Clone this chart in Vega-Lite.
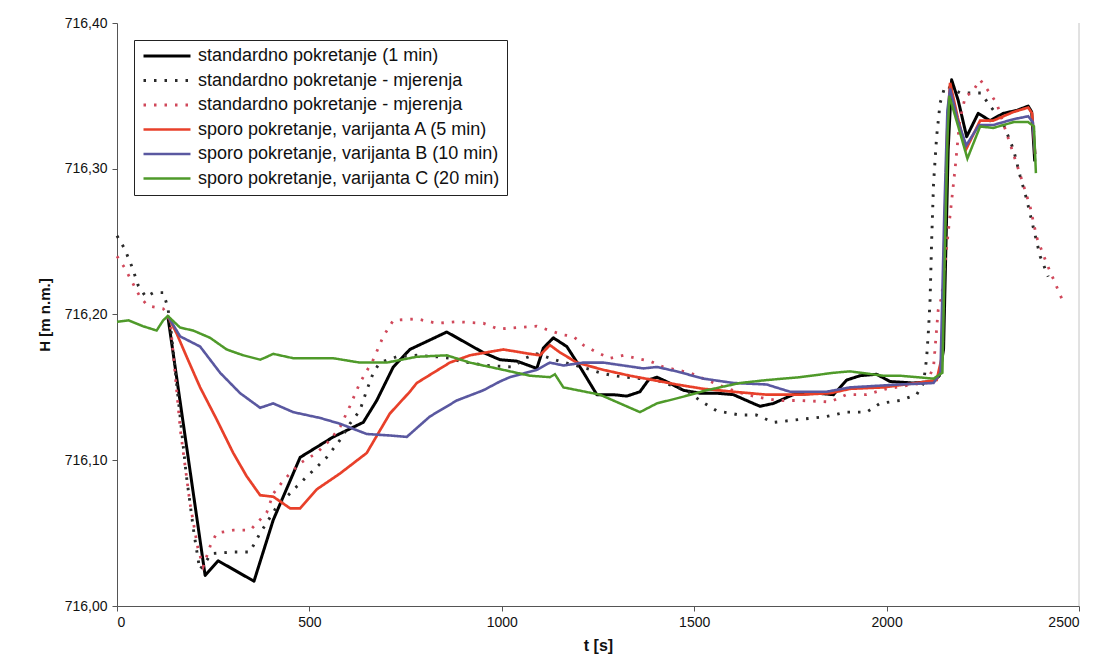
{
  "$schema": "https://vega.github.io/schema/vega-lite/v6.json",
  "width": 962,
  "height": 583,
  "autosize": {"type": "none"},
  "padding": {"left": 117, "top": 23, "right": 21, "bottom": 65},
  "background": "white",
  "config": {
    "view": {"stroke": null},
    "font": "Liberation Sans",
    "axis": {"labelFont": "Liberation Sans", "titleFont": "Liberation Sans", "labelColor": "#111", "titleColor": "#111", "domainColor": "#555", "tickColor": "#555", "grid": false, "labelFontSize": 14, "tickSize": 5}
  },
  "datasets": {
    "pts": [
      {"s":"std","t":132,"h":716.199},{"s":"std","t":229,"h":716.021},{"s":"std","t":263,"h":716.031},{"s":"std","t":356,"h":716.017},{"s":"std","t":406,"h":716.059},{"s":"std","t":476,"h":716.102},{"s":"std","t":562,"h":716.116},{"s":"std","t":640,"h":716.126},{"s":"std","t":675,"h":716.141},{"s":"std","t":718,"h":716.164},{"s":"std","t":761,"h":716.176},{"s":"std","t":857,"h":716.188},{"s":"std","t":951,"h":716.174},{"s":"std","t":995,"h":716.169},{"s":"std","t":1039,"h":716.168},{"s":"std","t":1091,"h":716.163},{"s":"std","t":1108,"h":716.177},{"s":"std","t":1134,"h":716.184},{"s":"std","t":1169,"h":716.178},{"s":"std","t":1208,"h":716.162},{"s":"std","t":1247,"h":716.145},{"s":"std","t":1290,"h":716.145},{"s":"std","t":1325,"h":716.144},{"s":"std","t":1359,"h":716.147},{"s":"std","t":1381,"h":716.155},{"s":"std","t":1403,"h":716.157},{"s":"std","t":1428,"h":716.154},{"s":"std","t":1472,"h":716.148},{"s":"std","t":1515,"h":716.146},{"s":"std","t":1558,"h":716.146},{"s":"std","t":1602,"h":716.145},{"s":"std","t":1636,"h":716.141},{"s":"std","t":1671,"h":716.137},{"s":"std","t":1706,"h":716.139},{"s":"std","t":1757,"h":716.145},{"s":"std","t":1818,"h":716.146},{"s":"std","t":1862,"h":716.145},{"s":"std","t":1896,"h":716.155},{"s":"std","t":1931,"h":716.158},{"s":"std","t":1974,"h":716.159},{"s":"std","t":2009,"h":716.154},{"s":"std","t":2069,"h":716.153},{"s":"std","t":2121,"h":716.154},{"s":"std","t":2137,"h":716.158},{"s":"std","t":2148,"h":716.176},{"s":"std","t":2152,"h":716.222},{"s":"std","t":2160,"h":716.313},{"s":"std","t":2169,"h":716.361},{"s":"std","t":2186,"h":716.347},{"s":"std","t":2208,"h":716.322},{"s":"std","t":2238,"h":716.338},{"s":"std","t":2269,"h":716.333},{"s":"std","t":2303,"h":716.338},{"s":"std","t":2338,"h":716.340},{"s":"std","t":2368,"h":716.343},{"s":"std","t":2377,"h":716.339},{"s":"std","t":2385,"h":716.305},

      {"s":"m1","t":0,"h":716.254},{"s":"m1","t":20,"h":716.245},{"s":"m1","t":40,"h":716.232},{"s":"m1","t":55,"h":716.220},{"s":"m1","t":75,"h":716.212},{"s":"m1","t":95,"h":716.215},{"s":"m1","t":120,"h":716.215},{"s":"m1","t":132,"h":716.205},{"s":"m1","t":140,"h":716.19},{"s":"m1","t":160,"h":716.14},{"s":"m1","t":180,"h":716.09},{"s":"m1","t":200,"h":716.05},{"s":"m1","t":215,"h":716.025},{"s":"m1","t":230,"h":716.030},{"s":"m1","t":245,"h":716.036},{"s":"m1","t":300,"h":716.037},{"s":"m1","t":345,"h":716.037},{"s":"m1","t":372,"h":716.050},{"s":"m1","t":415,"h":716.068},{"s":"m1","t":467,"h":716.082},{"s":"m1","t":510,"h":716.093},{"s":"m1","t":545,"h":716.102},{"s":"m1","t":580,"h":716.114},{"s":"m1","t":605,"h":716.125},{"s":"m1","t":631,"h":716.134},{"s":"m1","t":649,"h":716.148},{"s":"m1","t":666,"h":716.160},{"s":"m1","t":683,"h":716.167},{"s":"m1","t":727,"h":716.171},{"s":"m1","t":779,"h":716.172},{"s":"m1","t":831,"h":716.171},{"s":"m1","t":865,"h":716.170},{"s":"m1","t":891,"h":716.168},{"s":"m1","t":961,"h":716.165},{"s":"m1","t":1030,"h":716.164},{"s":"m1","t":1060,"h":716.170},{"s":"m1","t":1091,"h":716.173},{"s":"m1","t":1150,"h":716.168},{"s":"m1","t":1220,"h":716.163},{"s":"m1","t":1255,"h":716.160},{"s":"m1","t":1290,"h":716.158},{"s":"m1","t":1325,"h":716.157},{"s":"m1","t":1402,"h":716.155},{"s":"m1","t":1445,"h":716.151},{"s":"m1","t":1480,"h":716.148},{"s":"m1","t":1515,"h":716.141},{"s":"m1","t":1558,"h":716.134},{"s":"m1","t":1619,"h":716.131},{"s":"m1","t":1662,"h":716.131},{"s":"m1","t":1706,"h":716.126},{"s":"m1","t":1775,"h":716.128},{"s":"m1","t":1844,"h":716.130},{"s":"m1","t":1896,"h":716.133},{"s":"m1","t":1948,"h":716.133},{"s":"m1","t":1983,"h":716.139},{"s":"m1","t":2035,"h":716.141},{"s":"m1","t":2078,"h":716.145},{"s":"m1","t":2096,"h":716.153},{"s":"m1","t":2104,"h":716.170},{"s":"m1","t":2109,"h":716.19},{"s":"m1","t":2113,"h":716.21},{"s":"m1","t":2117,"h":716.25},{"s":"m1","t":2122,"h":716.29},{"s":"m1","t":2130,"h":716.322},{"s":"m1","t":2139,"h":716.345},{"s":"m1","t":2152,"h":716.357},{"s":"m1","t":2170,"h":716.355},{"s":"m1","t":2191,"h":716.352},{"s":"m1","t":2221,"h":716.352},{"s":"m1","t":2245,"h":716.352},{"s":"m1","t":2269,"h":716.343},{"s":"m1","t":2300,"h":716.333},{"s":"m1","t":2330,"h":716.313},{"s":"m1","t":2347,"h":716.295},{"s":"m1","t":2364,"h":716.279},{"s":"m1","t":2381,"h":716.260},{"s":"m1","t":2399,"h":716.240},{"s":"m1","t":2420,"h":716.226},

      {"s":"m2","t":0,"h":716.240},{"s":"m2","t":20,"h":716.232},{"s":"m2","t":40,"h":716.222},{"s":"m2","t":60,"h":716.212},{"s":"m2","t":80,"h":716.206},{"s":"m2","t":100,"h":716.205},{"s":"m2","t":120,"h":716.204},{"s":"m2","t":132,"h":716.200},{"s":"m2","t":140,"h":716.19},{"s":"m2","t":165,"h":716.12},{"s":"m2","t":190,"h":716.07},{"s":"m2","t":210,"h":716.04},{"s":"m2","t":224,"h":716.027},{"s":"m2","t":242,"h":716.041},{"s":"m2","t":259,"h":716.050},{"s":"m2","t":302,"h":716.052},{"s":"m2","t":346,"h":716.052},{"s":"m2","t":389,"h":716.064},{"s":"m2","t":406,"h":716.077},{"s":"m2","t":432,"h":716.086},{"s":"m2","t":476,"h":716.098},{"s":"m2","t":519,"h":716.105},{"s":"m2","t":554,"h":716.114},{"s":"m2","t":580,"h":716.123},{"s":"m2","t":605,"h":716.137},{"s":"m2","t":631,"h":716.153},{"s":"m2","t":666,"h":716.169},{"s":"m2","t":692,"h":716.185},{"s":"m2","t":718,"h":716.196},{"s":"m2","t":779,"h":716.197},{"s":"m2","t":831,"h":716.194},{"s":"m2","t":883,"h":716.195},{"s":"m2","t":952,"h":716.194},{"s":"m2","t":991,"h":716.190},{"s":"m2","t":1039,"h":716.191},{"s":"m2","t":1091,"h":716.192},{"s":"m2","t":1125,"h":716.189},{"s":"m2","t":1160,"h":716.186},{"s":"m2","t":1186,"h":716.185},{"s":"m2","t":1212,"h":716.179},{"s":"m2","t":1247,"h":716.174},{"s":"m2","t":1281,"h":716.170},{"s":"m2","t":1316,"h":716.172},{"s":"m2","t":1350,"h":716.170},{"s":"m2","t":1385,"h":716.168},{"s":"m2","t":1420,"h":716.164},{"s":"m2","t":1454,"h":716.162},{"s":"m2","t":1489,"h":716.160},{"s":"m2","t":1524,"h":716.156},{"s":"m2","t":1560,"h":716.152},{"s":"m2","t":1610,"h":716.147},{"s":"m2","t":1654,"h":716.144},{"s":"m2","t":1714,"h":716.141},{"s":"m2","t":1775,"h":716.141},{"s":"m2","t":1853,"h":716.140},{"s":"m2","t":1896,"h":716.145},{"s":"m2","t":1948,"h":716.145},{"s":"m2","t":2000,"h":716.149},{"s":"m2","t":2069,"h":716.152},{"s":"m2","t":2104,"h":716.153},{"s":"m2","t":2122,"h":716.164},{"s":"m2","t":2134,"h":716.203},{"s":"m2","t":2143,"h":716.212},{"s":"m2","t":2160,"h":716.256},{"s":"m2","t":2178,"h":716.300},{"s":"m2","t":2190,"h":716.333},{"s":"m2","t":2205,"h":716.350},{"s":"m2","t":2221,"h":716.352},{"s":"m2","t":2243,"h":716.361},{"s":"m2","t":2260,"h":716.355},{"s":"m2","t":2286,"h":716.345},{"s":"m2","t":2321,"h":716.317},{"s":"m2","t":2347,"h":716.296},{"s":"m2","t":2373,"h":716.274},{"s":"m2","t":2390,"h":716.253},{"s":"m2","t":2416,"h":716.235},{"s":"m2","t":2434,"h":716.224},{"s":"m2","t":2455,"h":716.211},

      {"s":"A","t":132,"h":716.199},{"s":"A","t":155,"h":716.187},{"s":"A","t":181,"h":716.171},{"s":"A","t":216,"h":716.150},{"s":"A","t":259,"h":716.128},{"s":"A","t":302,"h":716.105},{"s":"A","t":337,"h":716.089},{"s":"A","t":372,"h":716.076},{"s":"A","t":406,"h":716.075},{"s":"A","t":450,"h":716.067},{"s":"A","t":476,"h":716.067},{"s":"A","t":519,"h":716.080},{"s":"A","t":580,"h":716.091},{"s":"A","t":649,"h":716.105},{"s":"A","t":709,"h":716.132},{"s":"A","t":761,"h":716.147},{"s":"A","t":779,"h":716.153},{"s":"A","t":865,"h":716.167},{"s":"A","t":917,"h":716.172},{"s":"A","t":1004,"h":716.176},{"s":"A","t":1073,"h":716.173},{"s":"A","t":1099,"h":716.172},{"s":"A","t":1125,"h":716.179},{"s":"A","t":1151,"h":716.174},{"s":"A","t":1195,"h":716.167},{"s":"A","t":1264,"h":716.162},{"s":"A","t":1333,"h":716.158},{"s":"A","t":1394,"h":716.155},{"s":"A","t":1454,"h":716.152},{"s":"A","t":1524,"h":716.149},{"s":"A","t":1602,"h":716.147},{"s":"A","t":1688,"h":716.145},{"s":"A","t":1775,"h":716.145},{"s":"A","t":1853,"h":716.146},{"s":"A","t":1905,"h":716.149},{"s":"A","t":1991,"h":716.150},{"s":"A","t":2078,"h":716.153},{"s":"A","t":2130,"h":716.155},{"s":"A","t":2143,"h":716.170},{"s":"A","t":2150,"h":716.25},{"s":"A","t":2158,"h":716.33},{"s":"A","t":2165,"h":716.359},{"s":"A","t":2185,"h":716.335},{"s":"A","t":2206,"h":716.313},{"s":"A","t":2243,"h":716.333},{"s":"A","t":2277,"h":716.333},{"s":"A","t":2330,"h":716.339},{"s":"A","t":2368,"h":716.342},{"s":"A","t":2378,"h":716.338},{"s":"A","t":2386,"h":716.310},

      {"s":"B","t":132,"h":716.199},{"s":"B","t":164,"h":716.185},{"s":"B","t":216,"h":716.178},{"s":"B","t":268,"h":716.160},{"s":"B","t":320,"h":716.146},{"s":"B","t":372,"h":716.136},{"s":"B","t":406,"h":716.139},{"s":"B","t":458,"h":716.133},{"s":"B","t":528,"h":716.129},{"s":"B","t":580,"h":716.125},{"s":"B","t":649,"h":716.118},{"s":"B","t":709,"h":716.117},{"s":"B","t":753,"h":716.116},{"s":"B","t":813,"h":716.130},{"s":"B","t":883,"h":716.141},{"s":"B","t":952,"h":716.148},{"s":"B","t":995,"h":716.154},{"s":"B","t":1021,"h":716.157},{"s":"B","t":1091,"h":716.162},{"s":"B","t":1125,"h":716.167},{"s":"B","t":1160,"h":716.165},{"s":"B","t":1212,"h":716.167},{"s":"B","t":1264,"h":716.167},{"s":"B","t":1316,"h":716.165},{"s":"B","t":1368,"h":716.163},{"s":"B","t":1403,"h":716.164},{"s":"B","t":1454,"h":716.161},{"s":"B","t":1524,"h":716.156},{"s":"B","t":1602,"h":716.153},{"s":"B","t":1688,"h":716.152},{"s":"B","t":1749,"h":716.147},{"s":"B","t":1844,"h":716.147},{"s":"B","t":1905,"h":716.150},{"s":"B","t":2035,"h":716.152},{"s":"B","t":2122,"h":716.153},{"s":"B","t":2140,"h":716.160},{"s":"B","t":2150,"h":716.27},{"s":"B","t":2158,"h":716.34},{"s":"B","t":2165,"h":716.355},{"s":"B","t":2185,"h":716.333},{"s":"B","t":2207,"h":716.316},{"s":"B","t":2240,"h":716.330},{"s":"B","t":2277,"h":716.330},{"s":"B","t":2330,"h":716.334},{"s":"B","t":2368,"h":716.336},{"s":"B","t":2380,"h":716.332},{"s":"B","t":2386,"h":716.310},

      {"s":"C","t":0,"h":716.195},{"s":"C","t":30,"h":716.196},{"s":"C","t":67,"h":716.192},{"s":"C","t":103,"h":716.189},{"s":"C","t":120,"h":716.196},{"s":"C","t":132,"h":716.199},{"s":"C","t":164,"h":716.191},{"s":"C","t":198,"h":716.189},{"s":"C","t":242,"h":716.184},{"s":"C","t":285,"h":716.176},{"s":"C","t":328,"h":716.172},{"s":"C","t":372,"h":716.169},{"s":"C","t":390,"h":716.171},{"s":"C","t":406,"h":716.173},{"s":"C","t":458,"h":716.170},{"s":"C","t":562,"h":716.170},{"s":"C","t":631,"h":716.167},{"s":"C","t":701,"h":716.167},{"s":"C","t":779,"h":716.171},{"s":"C","t":857,"h":716.172},{"s":"C","t":917,"h":716.167},{"s":"C","t":1004,"h":716.162},{"s":"C","t":1073,"h":716.158},{"s":"C","t":1125,"h":716.157},{"s":"C","t":1138,"h":716.159},{"s":"C","t":1160,"h":716.150},{"s":"C","t":1255,"h":716.145},{"s":"C","t":1307,"h":716.139},{"s":"C","t":1359,"h":716.133},{"s":"C","t":1403,"h":716.139},{"s":"C","t":1463,"h":716.143},{"s":"C","t":1532,"h":716.148},{"s":"C","t":1619,"h":716.153},{"s":"C","t":1688,"h":716.155},{"s":"C","t":1775,"h":716.157},{"s":"C","t":1862,"h":716.160},{"s":"C","t":1905,"h":716.161},{"s":"C","t":1991,"h":716.158},{"s":"C","t":2035,"h":716.158},{"s":"C","t":2122,"h":716.156},{"s":"C","t":2145,"h":716.160},{"s":"C","t":2152,"h":716.25},{"s":"C","t":2158,"h":716.32},{"s":"C","t":2163,"h":716.350},{"s":"C","t":2185,"h":716.330},{"s":"C","t":2210,"h":716.307},{"s":"C","t":2243,"h":716.329},{"s":"C","t":2277,"h":716.328},{"s":"C","t":2330,"h":716.332},{"s":"C","t":2368,"h":716.332},{"s":"C","t":2383,"h":716.329},{"s":"C","t":2388,"h":716.297}
    ]
  },
  "layer": [
    {
      "data": {"values": [{"edge": 2500}]},
      "mark": {"type": "rule", "color": "#c4c4c4", "strokeWidth": 1},
      "encoding": {"x": {"field": "edge", "type": "quantitative"}}
    },
    {
      "data": {"name": "pts"},
      "encoding": {
        "x": {"field": "t", "type": "quantitative", "scale": {"domain": [0, 2500], "nice": false},
          "axis": {"values": [0, 500, 1000, 1500, 2000, 2500], "format": "d", "title": "t [s]", "titleFontSize": 16, "titleFontWeight": "bold", "titlePadding": 8, "labelPadding": 4}},
        "y": {"field": "h", "type": "quantitative", "scale": {"domain": [716.0, 716.4], "nice": false, "zero": false},
          "axis": {"values": [716.0, 716.1, 716.2, 716.3, 716.4], "labelExpr": "replace(format(datum.value, '.2f'), '.', ',')", "title": "H [m n.m.]", "titleFontSize": 15, "titleFontWeight": "bold", "titlePadding": 12, "labelPadding": 5}},
        "color": {"field": "s", "type": "nominal",
          "scale": {"domain": ["std", "m1", "m2", "A", "B", "C"], "range": ["#000000", "#2a2a2a", "#d0485a", "#e8402a", "#5a58a0", "#4f9a2a"]},
          "legend": {"orient": "none", "legendX": 17, "legendY": 17, "title": null, "strokeColor": "#222", "fillColor": "white", "padding": 7, "symbolType": "M-4,0L4,0", "symbolSize": 138, "symbolOffset": 17, "labelFont": "Liberation Sans", "labelFontSize": 18, "labelColor": "#111", "labelLimit": 500, "labelOffset": 22, "rowPadding": 6.5,
            "labelExpr": "datum.value == 'std' ? 'standardno pokretanje (1 min)' : (datum.value == 'm1' || datum.value == 'm2') ? 'standardno pokretanje - mjerenja' : datum.value == 'A' ? 'sporo pokretanje, varijanta A (5 min)' : datum.value == 'B' ? 'sporo pokretanje, varijanta B (10 min)' : 'sporo pokretanje, varijanta C (20 min)'"}},
        "strokeDash": {"field": "s", "type": "nominal",
          "scale": {"domain": ["std", "m1", "m2", "A", "B", "C"], "range": [[1, 0], [2.5, 8], [2.5, 8], [1, 0], [1, 0], [1, 0]]}},
        "strokeWidth": {"field": "s", "type": "nominal",
          "scale": {"domain": ["std", "m1", "m2", "A", "B", "C"], "range": [3, 2.5, 2.5, 1.6, 1.4, 1.6]}}
      },
      "layer": [
        {"transform": [{"filter": "datum.s == 'std'"}], "mark": {"type": "line", "strokeJoin": "round"}},
        {"transform": [{"filter": "datum.s == 'm1'"}], "mark": {"type": "line"}},
        {"transform": [{"filter": "datum.s == 'm2'"}], "mark": {"type": "line"}},
        {"transform": [{"filter": "datum.s == 'A'"}], "mark": {"type": "line"}},
        {"transform": [{"filter": "datum.s == 'B'"}], "mark": {"type": "line"}},
        {"transform": [{"filter": "datum.s == 'C'"}], "mark": {"type": "line"}}
      ]
    }
  ]
}
